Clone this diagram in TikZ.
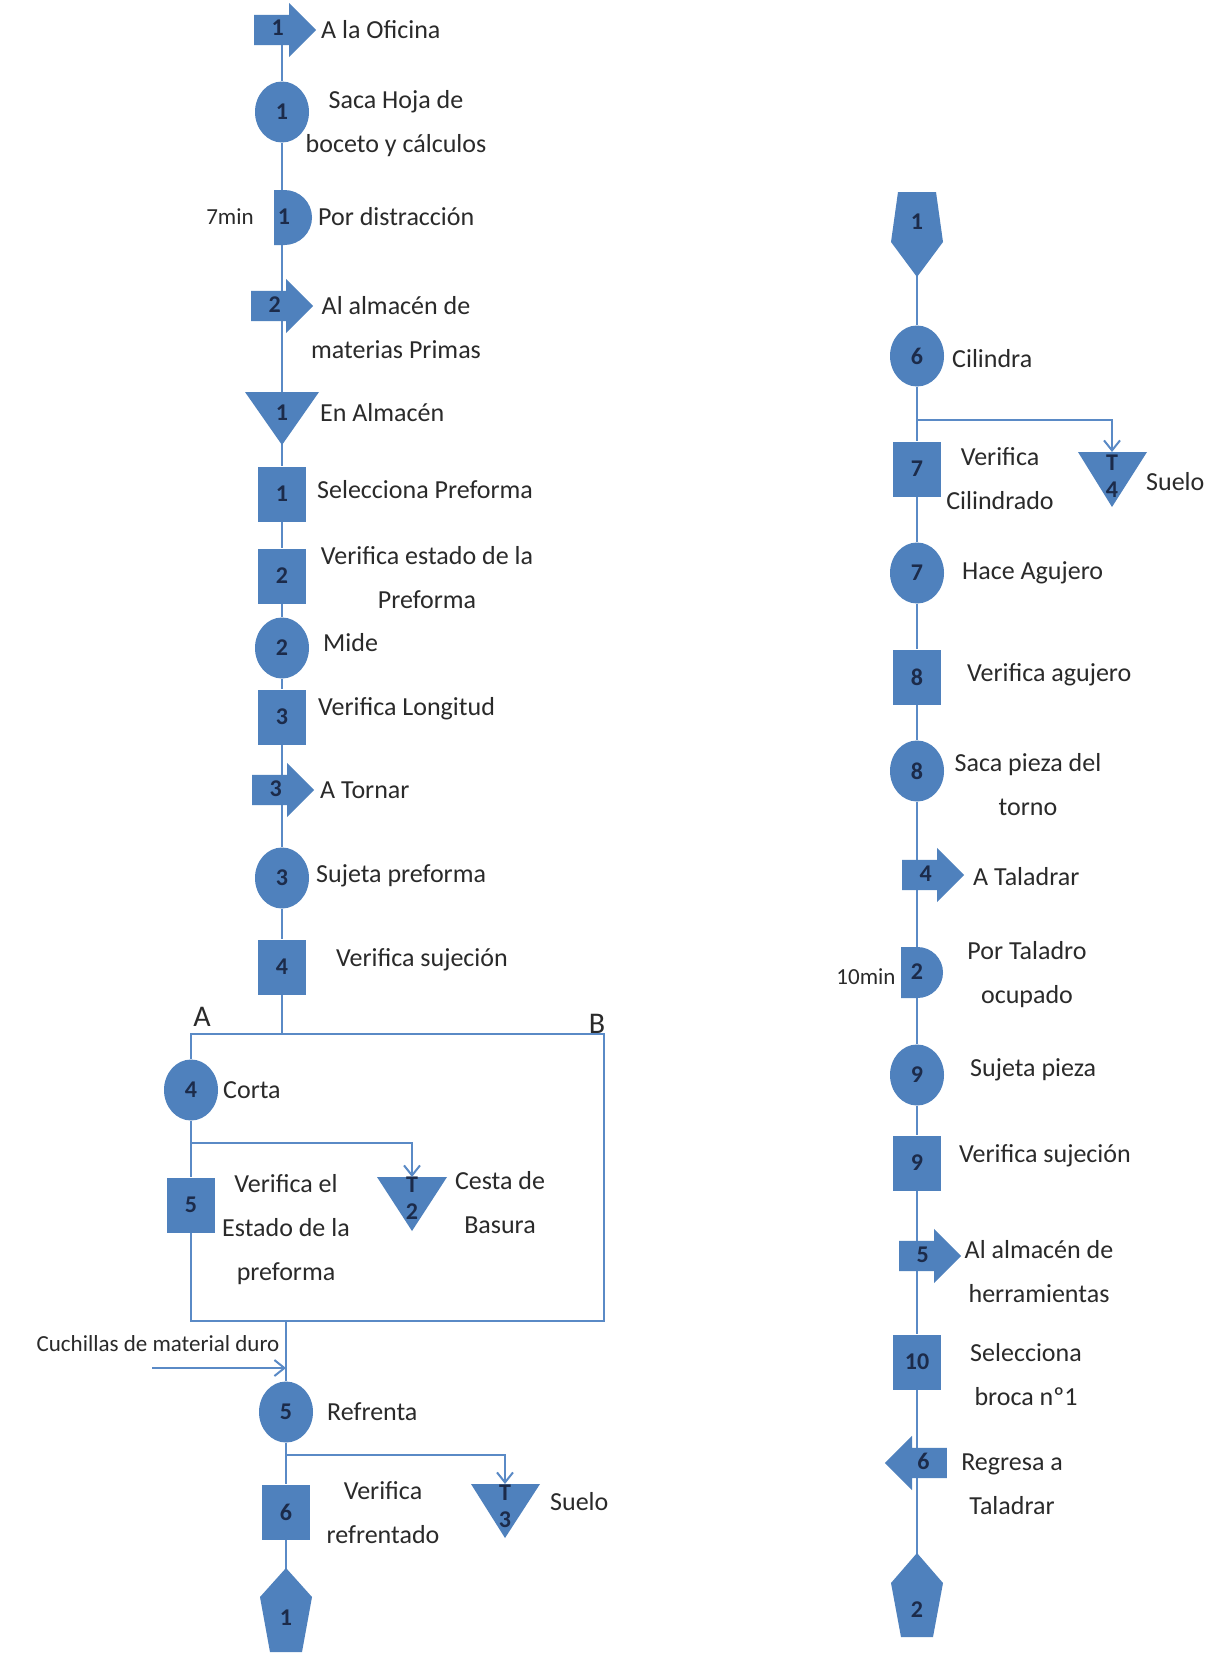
\documentclass[tikz,border=0pt]{standalone}
\usepackage{fontspec}
\setmainfont{Carlito}
\usepackage{tikz}
\usetikzlibrary{arrows.meta,shapes.geometric,shapes.arrows,backgrounds}
\definecolor{symblue}{HTML}{4F81BD}
\definecolor{lineblue}{HTML}{5A8AC6}
\definecolor{numink}{HTML}{1C2B4A}
\definecolor{lblink}{HTML}{2A2A2A}

\tikzset{
  sym/.style={fill=symblue, inner sep=0pt, text=numink, font=\fontsize{24}{27}\selectfont\bfseries},
  num/.style={inner sep=0pt, text=numink, align=center, font=\fontsize{24}{27}\selectfont\bfseries},
  oper/.style={sym, ellipse, minimum width=54pt, minimum height=61pt},
  insp/.style={sym, rectangle, minimum width=48pt, minimum height=55pt},
  trans/.style={sym, single arrow, anchor=tail, minimum height=62pt, single arrow head extend=12pt,
    text height=12pt, text depth=0pt, inner xsep=3pt, inner ysep=9pt},
  transback/.style={trans, shape border rotate=180},
  lbl/.style={inner sep=0pt, text=lblink, align=center, font=\fontsize{26}{44}\selectfont},
  note/.style={inner sep=0pt, text=lblink, font=\fontsize{23}{28}\selectfont},
  corner/.style={inner sep=0pt, text=lblink, font=\fontsize{30}{36}\selectfont},
  flow/.style={draw=lineblue, line width=2.4pt},
  drop/.style={draw=lineblue, line width=2pt, -{Straight Barb[length=10pt,width=16pt]}},
}

\begin{document}
\begin{tikzpicture}[x=1pt,y=-1pt]
  \useasboundingbox (0,0) rectangle (1209,1662);

  % left column
  \node[trans] (t1) at (254,30) {1};
  \node[lbl,anchor=west] (lt1) at (321,30) {A la Oficina};
  \node[oper] (o1) at (282,112) {1};
  \node[lbl] (lo1) at (396,124) {Saca Hoja de\\boceto y cálculos};
  \fill[symblue] (274,190) -- (284.5,190) arc[start angle=-90, end angle=90, radius=27.5] -- (274,245) -- cycle;
  \node[num] (d1) at (284,217) {1};
  \node[note] (m1) at (230,217) {7min};
  \node[lbl,anchor=west] (ld1) at (318,217) {Por distracción};
  \node[trans] (t2) at (251,306) {2};
  \node[lbl] (lt2) at (396,328) {Al almacén de\\materias Primas};
  \fill[symblue] (245,392) -- (319,392) -- (282,445) -- cycle;
  \node[num] (s1) at (282,413) {1};
  \node[lbl,anchor=west] (ls1) at (320,413) {En Almacén};
  \node[insp] (i1) at (282,494) {1};
  \node[lbl,anchor=west] (li1) at (317,490) {Selecciona Preforma};
  \node[insp] (i2) at (282,576) {2};
  \node[lbl] (li2) at (427,578) {Verifica estado de la\\Preforma};
  \node[oper] (o2) at (282,648) {2};
  \node[lbl,anchor=west] (lo2) at (323,643) {Mide};
  \node[insp] (i3) at (282,717) {3};
  \node[lbl,anchor=west] (li3) at (318,709) {Verifica Longitud};
  \node[trans] (t3) at (252,790) {3};
  \node[lbl,anchor=west] (lt3) at (320,790) {A Tornar};
  \node[oper] (o3) at (282,878) {3};
  \node[lbl,anchor=west] (lo3) at (316,876) {Sujeta preforma};
  \node[insp] (i4) at (282,967) {4};
  \node[lbl,anchor=west] (li4) at (336,960) {Verifica sujeción};

  % loop A / B
  \coordinate (J) at (282,1034);
  \coordinate (la) at (191,1034);
  \coordinate (ra) at (604,1034);
  \coordinate (lb) at (191,1321);
  \coordinate (rb) at (604,1321);
  \node[corner] (cA) at (202,1017) {A};
  \node[corner] (cB) at (597,1024) {B};
  \node[oper] (o4) at (191,1090) {4};
  \node[lbl,anchor=west] (lo4) at (223,1090) {Corta};
  \fill[symblue] (377,1177) -- (447,1177) -- (412,1231) -- cycle;
  \node[num] (w2) at (412,1198) {T\\2};
  \coordinate (w2top) at (412,1177);
  \node[lbl] (lw2) at (500,1203) {Cesta de\\Basura};
  \node[insp] (i5) at (191,1205) {5};
  \node[lbl] (li5) at (286,1230) {Verifica el\\Estado de la\\preforma};

  % stem below the loop
  \node[note] (lcu) at (158,1344) {Cuchillas de material duro};
  \coordinate (cin) at (152,1368);
  \node[oper] (o5) at (286,1412) {5};
  \node[lbl,anchor=west] (lo5) at (327,1412) {Refrenta};
  \fill[symblue] (471,1484) -- (540,1484) -- (505,1538) -- cycle;
  \node[num] (w3) at (505,1506) {T\\3};
  \coordinate (w3top) at (505,1484);
  \node[lbl,anchor=west] (lw3) at (550,1502) {Suelo};
  \node[insp] (i6) at (286,1512) {6};
  \node[lbl] (li6) at (383,1513) {Verifica\\refrentado};
  \fill[symblue] (286,1568) -- (312,1597) -- (302,1652) -- (270,1652) -- (260,1597) -- cycle;
  \node[num] (p1) at (286,1618) {1};

  % right column
  \fill[symblue] (898,192) -- (936,192) -- (943,242) -- (917,277) -- (891,242) -- cycle;
  \node[num] (q1) at (917,222) {1};
  \node[oper] (o6) at (917,356) {6};
  \node[lbl,anchor=west] (lo6) at (952,359) {Cilindra};
  \fill[symblue] (1078,452) -- (1147,452) -- (1112,507) -- cycle;
  \node[num] (w4) at (1112,476) {T\\4};
  \coordinate (w4top) at (1112,452);
  \node[lbl,anchor=west] (lw4) at (1146,482) {Suelo};
  \node[insp] (i7) at (917,469) {7};
  \node[lbl] (li7) at (1000,479) {Verifica\\Cilindrado};
  \node[oper] (o7) at (917,573) {7};
  \node[lbl,anchor=west] (lo7) at (962,573) {Hace Agujero};
  \node[insp] (i8) at (917,677) {8};
  \node[lbl,anchor=west] (li8) at (967,675) {Verifica agujero};
  \node[oper] (o8) at (917,771) {8};
  \node[lbl] (lo8) at (1028,785) {Saca pieza del\\torno};
  \node[trans] (t4) at (902,875) {4};
  \node[lbl,anchor=west] (lt4) at (973,877) {A Taladrar};
  \fill[symblue] (901,947) -- (917.5,947) arc[start angle=-90, end angle=90, radius=25.5] -- (901,998) -- cycle;
  \node[num] (d2) at (917,972) {2};
  \node[note] (m2) at (866,977) {10min};
  \node[lbl] (ld2) at (1027,975) {Por Taladro\\ocupado};
  \node[oper] (o9) at (917,1075) {9};
  \node[lbl,anchor=west] (lo9) at (970,1070) {Sujeta pieza};
  \node[insp] (i9) at (917,1163) {9};
  \node[lbl,anchor=west] (li9) at (959,1156) {Verifica sujeción};
  \node[trans] (t5) at (899,1256) {5};
  \node[lbl] (lt5) at (1039,1272) {Al almacén de\\herramientas};
  \node[insp] (i10) at (917,1362) {10};
  \node[lbl] (li10) at (1026,1375) {Selecciona\\broca nº1};
  \node[transback] (t6) at (947,1463) {6};
  \node[lbl] (lt6) at (1012,1484) {Regresa a\\Taladrar};
  \fill[symblue] (917,1553) -- (943,1583) -- (933,1637) -- (901,1637) -- (891,1583) -- cycle;
  \node[num] (q2) at (917,1610) {2};

  % side branches
  \coordinate (b2) at (191,1143);
  \coordinate (b3) at (286,1455);
  \coordinate (b4) at (917,420);
  \draw[drop] (b2) -| (w2top);
  \draw[drop] (b3) -| (w3top);
  \draw[drop] (b4) -| (w4top);
  \draw[drop] (cin) -- (cin -| o5);

  \begin{pgfonlayer}{background}
    \fill[white] (0,0) rectangle (1209,1662);
    \draw[flow] (t1 -| o1) -- (o1) -- (d1 -| o1) -- (t2 -| o1) -- (s1) -- (i1) -- (i2)
      -- (o2) -- (i3) -- (t3 -| o1) -- (o3) -- (i4) -- (J);
    \draw[flow] (J) -- (la) -- (o4) -- (i5) -- (lb) -- (rb) -- (ra) -- (J);
    \draw[flow] (o5 |- lb) -- (o5) -- (i6) -- (p1);
    \draw[flow] (q1) -- (o6) -- (i7) -- (o7) -- (i8) -- (o8) -- (t4 -| o6) -- (d2 -| o6)
      -- (o9) -- (i9) -- (t5 -| o6) -- (i10) -- (t6 -| o6) -- (q2);
  \end{pgfonlayer}
\end{tikzpicture}
\end{document}
